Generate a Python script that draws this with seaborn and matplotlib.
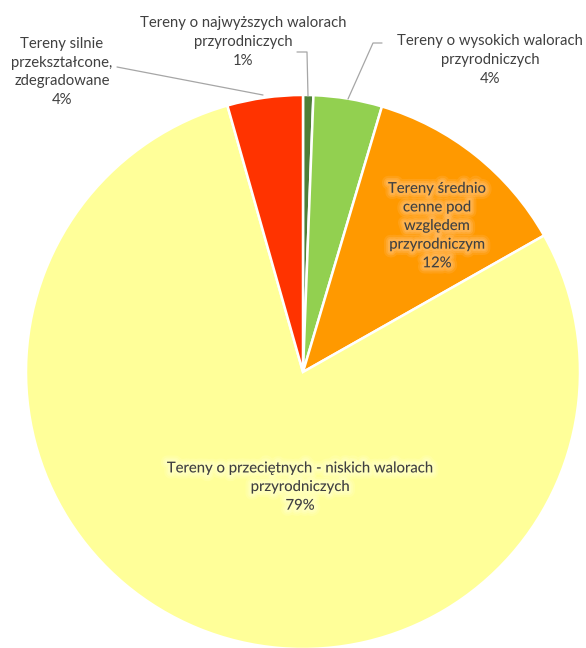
import matplotlib
matplotlib.use("Agg")
import matplotlib.pyplot as plt
import matplotlib.patheffects as pe
import seaborn as sns

# Land categories by natural value (clockwise from the top)
categories = [
    "Tereny o najwyższych walorach\nprzyrodniczych",
    "Tereny o wysokich walorach\nprzyrodniczych",
    "Tereny średnio\ncenne pod\nwzględem\nprzyrodniczym",
    "Tereny o przeciętnych - niskich walorach\nprzyrodniczych",
    "Tereny silnie\nprzekształcone,\nzdegradowane",
]
shares = [0.6, 4.0, 12.2, 78.8, 4.4]
colors = ["#4E7F38", "#92D050", "#FF9900", "#FFFF99", "#FF3300"]

sns.set_theme(style="white")
plt.rcParams["font.family"] = ["Lato", "DejaVu Sans"]

W, H = 586, 648
fig = plt.figure(figsize=(W / 100, H / 100), dpi=100)
ax = fig.add_axes([0, 0, 1, 1])

cx, cy, r = 303, H - 372, 277
ax.pie(shares, colors=colors, startangle=90, counterclock=False,
       center=(cx, cy), radius=r,
       wedgeprops=dict(edgecolor="white", linewidth=1.8))
ax.set_xlim(0, W)
ax.set_ylim(0, H)
ax.set_aspect("equal")
ax.axis("off")

txt = "#404040"
fs = 10.7
labels = [f"{c}\n{round(v)}%" for c, v in zip(categories, shares)]


def glow(color):
    # soft halo built from a few translucent strokes, then the text itself
    return [pe.Stroke(linewidth=w, foreground=color, alpha=a)
            for w, a in ((9, 0.2), (6, 0.3), (3.5, 0.4))] + [pe.Normal()]


# label anchors (x, y from top)
pos = [(243, 42), (490, 60), (437, 226), (300, 487), (62, 72)]
for i, (lab, (x, y)) in enumerate(zip(labels, pos)):
    t = ax.text(x, H - y, lab, ha="center", va="center", fontsize=fs,
                color=txt, linespacing=1.42)
    if i == 2:
        t.set_path_effects(glow("#FFC070"))
    if i == 3:
        t.set_path_effects(glow("#FFFFCC"))

lc = "#A6A6A6"
ax.plot([297, 307, 308], [H - 52, H - 52, H - 96], color=lc, lw=0.9)
ax.plot([382, 373, 348], [H - 43, H - 43, H - 99], color=lc, lw=0.9)
ax.plot([117, 263], [H - 67, H - 95], color=lc, lw=0.9)

fig.savefig("out.png", dpi=100, facecolor="white")
